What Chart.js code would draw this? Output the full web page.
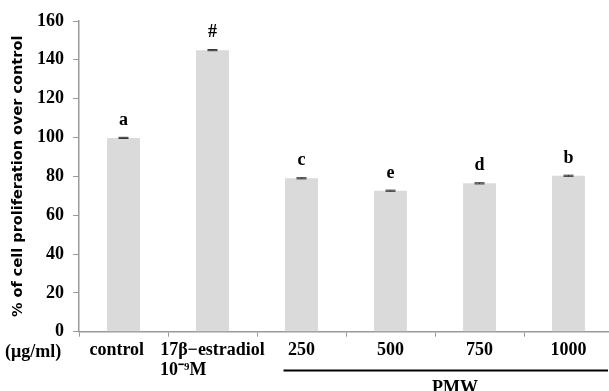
<!DOCTYPE html>
<html>
<head>
<meta charset="utf-8">
<script src="https://cdn.jsdelivr.net/npm/chart.js@4/dist/chart.umd.min.js"></script>
<style>
  html, body { margin: 0; padding: 0; background: #fff; overflow: hidden; }
  #wrap { width: 614px; height: 391px; position: relative; }
</style>
</head>
<body>
<div id="wrap"><canvas id="prolifChart"></canvas></div>
<script>
// data
const categories = [
    'control' + '\u00A0'.repeat(3),
    ['17\u03B2\u2212estradiol', '10\u207B\u2079M' + '\u00A0'.repeat(13)],
    '250', '500', '750', '1000'
];
const proliferation = [99.8, 145.0, 79.0, 72.6, 76.4, 80.3];
const errors = [0.3, 0.3, 0.3, 0.3, 0.3, 0.3];
const letters = ['a', '#', 'c', 'e', 'd', 'b'];
const yTicks = [0, 20, 40, 60, 80, 100, 120, 140, 160];

const serif = '"Liberation Serif", "Times New Roman", serif';

// error bars, significance letters and the extra annotations
const annotations = {
    id: 'annotations',
    afterDatasetsDraw(chart) {
        const ctx = chart.ctx;
        const y = chart.scales.y;
        const meta = chart.getDatasetMeta(0);
        ctx.save();
        meta.data.forEach((bar, i) => {
            const top = y.getPixelForValue(proliferation[i] + errors[i]);
            const bottom = y.getPixelForValue(proliferation[i] - errors[i]);
            ctx.strokeStyle = '#333';
            ctx.lineWidth = 1;
            ctx.beginPath();
            ctx.moveTo(bar.x, top);
            ctx.lineTo(bar.x, bottom);
            ctx.moveTo(bar.x - 5, top);
            ctx.lineTo(bar.x + 5, top);
            ctx.moveTo(bar.x - 5, bottom);
            ctx.lineTo(bar.x + 5, bottom);
            ctx.stroke();

            ctx.fillStyle = '#000';
            ctx.font = 'bold 18px ' + serif;
            ctx.textAlign = 'center';
            ctx.textBaseline = 'middle';
            ctx.fillText(letters[i], bar.x, top - 17);
        });

        ctx.font = 'bold 18px ' + serif;
        ctx.fillStyle = '#000';
        ctx.textAlign = 'left';
        ctx.textBaseline = 'middle';
        ctx.fillText('(\u03BCg/ml)', 5, 352);

        // PMW bracket
        const x = chart.scales.x;
        const x0 = x.getPixelForValue(2) - 18;
        const x1 = 608;
        ctx.strokeStyle = '#000';
        ctx.lineWidth = 2;
        ctx.beginPath();
        ctx.moveTo(x0, 370.5);
        ctx.lineTo(x1, 370.5);
        ctx.stroke();
        ctx.textAlign = 'center';
        ctx.textBaseline = 'alphabetic';
        ctx.fillText('PMW', 455, 393);
        ctx.restore();
    }
};

new Chart(document.getElementById('prolifChart'), {
    type: 'bar',
    data: {
        labels: categories,
        datasets: [{
            data: proliferation,
            backgroundColor: '#dadada',
            borderWidth: 0,
            barPercentage: 0.74,
            categoryPercentage: 0.5
        }]
    },
    options: {
        responsive: true,
        maintainAspectRatio: false,
        animation: false,
        layout: { padding: { top: 21, right: 1, left: 0, bottom: 0 } },
        plugins: {
            legend: { display: false },
            tooltip: { enabled: false }
        },
        scales: {
            x: {
                afterFit(scale) { scale.height = 59.3; },
                grid: {
                    drawOnChartArea: false,
                    drawTicks: true,
                    tickLength: 5,
                    color: '#999'
                },
                border: { color: '#999', width: 1.5 },
                ticks: {
                    color: '#000',
                    padding: 3,
                    maxRotation: 0,
                    autoSkip: false,
                    font: { family: serif, size: 18, weight: 'bold', lineHeight: 1.15 }
                }
            },
            y: {
                min: 0,
                max: 160,
                afterBuildTicks(scale) { scale.ticks = yTicks.map(v => ({ value: v })); },
                afterFit(scale) { scale.width = 79; },
                grid: {
                    drawOnChartArea: false,
                    drawTicks: true,
                    tickLength: 6,
                    color: '#999'
                },
                border: { color: '#999', width: 1.5 },
                ticks: {
                    color: '#000',
                    padding: 9,
                    font: { family: serif, size: 18, weight: 'bold' }
                },
                title: {
                    display: true,
                    text: '% of cell proliferation over control',
                    color: '#000',
                    padding: { top: 10, bottom: 0 },
                    font: { family: '"DejaVu Sans", sans-serif', size: 14.5, weight: 'bold' }
                }
            }
        }
    },
    plugins: [annotations]
});
</script>
</body>
</html>
